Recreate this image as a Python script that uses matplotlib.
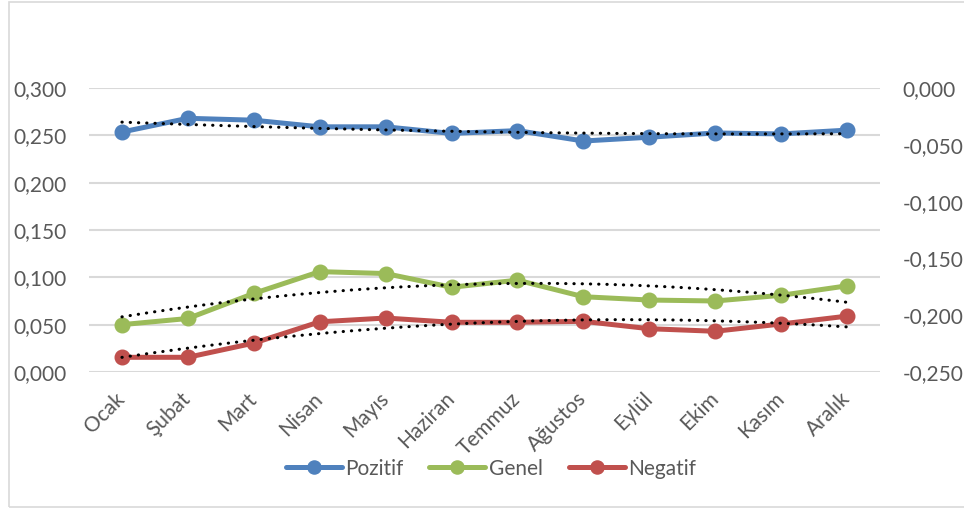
import numpy as np
import matplotlib.pyplot as plt
from matplotlib.patches import Rectangle
from matplotlib.ticker import FuncFormatter

plt.rcParams['font.family'] = ['Lato', 'DejaVu Sans']

# months and values
months = ["Ocak", "Şubat", "Mart", "Nisan", "Mayıs", "Haziran",
          "Temmuz", "Ağustos", "Eylül", "Ekim", "Kasım", "Aralık"]
pozitif = [0.2535, 0.268, 0.266, 0.259, 0.259, 0.252,
           0.255, 0.244, 0.248, 0.2525, 0.2515, 0.2555]
genel = [0.050, 0.0565, 0.083, 0.106, 0.104, 0.0895,
         0.097, 0.0795, 0.076, 0.075, 0.081, 0.091]
negatif = [0.0155, 0.0155, 0.0305, 0.053, 0.057, 0.0525,
           0.0525, 0.0535, 0.0457, 0.043, 0.0507, 0.059]

left_ticks = [0.0, 0.05, 0.10, 0.15, 0.20, 0.25, 0.30]
right_ticks = [-0.25, -0.20, -0.15, -0.10, -0.05, 0.0]

series = [("Pozitif", pozitif, "#4F81BD"),
          ("Genel", genel, "#9BBB59"),
          ("Negatif", negatif, "#C0504D")]

txt = "#595959"
fig = plt.figure(figsize=(9.64, 5.09), dpi=100)
ax = fig.add_axes([0.0923, 0.2692, 0.8206, 0.5579])

x = np.arange(len(months))
for name, vals, col in series:
    ax.plot(x, vals, color=col, lw=3.6, marker="o", ms=10.5,
            solid_capstyle="round", label=name, zorder=3)

# polynomial (order 2) trendlines like Excel
for name, vals, col in series:
    coef = np.polyfit(x, vals, 2)
    xx = np.linspace(0, len(months) - 1, 200)
    ax.plot(xx, np.polyval(coef, xx), color="black", lw=2.2,
            linestyle=(0, (0.1, 2.6)), dash_capstyle="round", zorder=4)

ax.set_xlim(-0.5, len(months) - 0.5)
ax.set_ylim(0, 0.30)
ax.set_yticks(left_ticks)
ax.yaxis.set_major_formatter(FuncFormatter(lambda v, p: f"{v:.3f}".replace(".", ",")))
ax.grid(axis="y", color="#d9d9d9", lw=1.5)
ax.set_axisbelow(True)
ax.set_xticks(x)
ax.set_xticklabels(months, rotation=45, ha="right", va="center",
                   rotation_mode="anchor")
ax.tick_params(axis="x", length=0, pad=17, labelsize=15, labelcolor=txt)
ax.tick_params(axis="y", length=0, pad=16, labelsize=15, labelcolor=txt)
for s in ax.spines.values():
    s.set_visible(False)

ax2 = ax.twinx()
ax2.set_ylim(-0.25, 0)
ax2.set_yticks(right_ticks)
ax2.yaxis.set_major_formatter(FuncFormatter(lambda v, p: f"{v:.3f}".replace(".", ",").replace("-0,000", "0,000")))
ax2.tick_params(axis="y", length=0, pad=16, labelsize=15, labelcolor=txt)
for s in ax2.spines.values():
    s.set_visible(False)

h, l = ax.get_legend_handles_labels()
fig.legend(h[:3], l[:3], loc="center", bbox_to_anchor=(0.509, 0.079), ncol=3,
           frameon=False, fontsize=15, handlelength=2.7, handletextpad=0.15,
           columnspacing=1.25, labelcolor=txt, markerscale=0.9)

fig.patches.append(Rectangle((8.5 / 964, 1 - 506.5 / 509), 1.0, 505 / 509,
                             transform=fig.transFigure, fill=False,
                             edgecolor="#d9d9d9", lw=1.2))

fig.savefig("out.png", dpi=100)
